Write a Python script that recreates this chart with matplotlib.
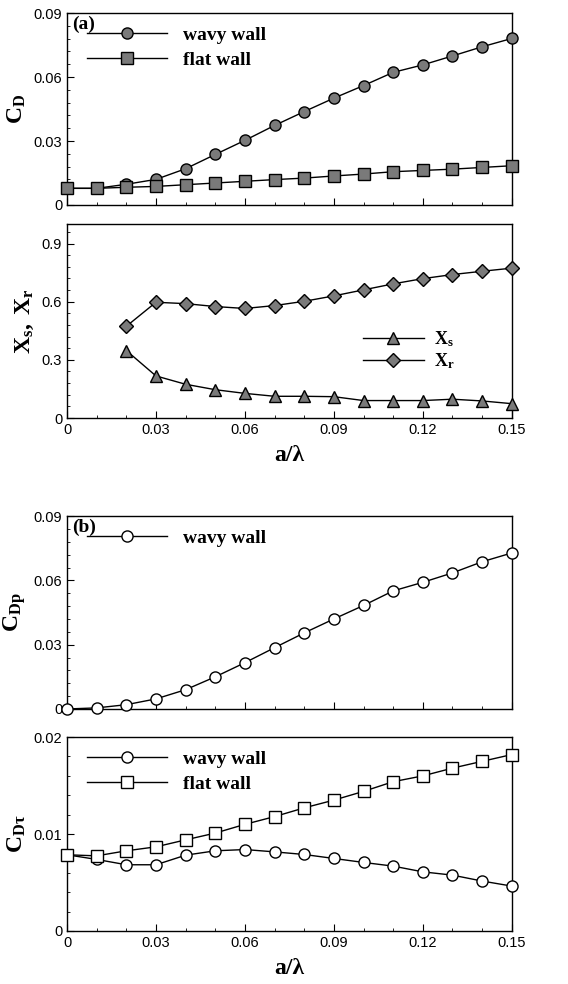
import matplotlib
matplotlib.use('Agg')
import matplotlib.pyplot as plt
from matplotlib.ticker import MultipleLocator, FixedFormatter, FixedLocator

plt.rcParams.update({
    'font.family': 'Liberation Sans',
    'font.size': 10.5,
    'mathtext.fontset': 'custom',
    'mathtext.rm': 'Liberation Serif',
    'mathtext.bf': 'Liberation Serif:bold',
    'mathtext.it': 'Liberation Serif:italic',
    'axes.linewidth': 1.0,
    'xtick.direction': 'in',
    'ytick.direction': 'in',
    'xtick.major.size': 5,
    'ytick.major.size': 5,
    'xtick.minor.size': 2.5,
    'ytick.minor.size': 2.5,
})

a_lam = [0, 0.01, 0.02, 0.03, 0.04, 0.05, 0.06, 0.07, 0.08, 0.09, 0.10, 0.11, 0.12, 0.13, 0.14, 0.15]

# (a) total drag
cd_wavy = [0.0078, 0.0078, 0.0097, 0.0120, 0.0170, 0.0237, 0.0303, 0.0373, 0.0438, 0.0501,
           0.0560, 0.0622, 0.0657, 0.0699, 0.0742, 0.0781]
cd_flat = [0.0078, 0.0078, 0.0083, 0.0087, 0.0095, 0.0103, 0.0111, 0.0119, 0.0126, 0.0136,
           0.0145, 0.0156, 0.0162, 0.0168, 0.0176, 0.0184]

# separation / reattachment points (start at a/lambda = 0.02)
a_sep = a_lam[2:]
xs = [0.348, 0.217, 0.174, 0.146, 0.127, 0.112, 0.112, 0.110, 0.090, 0.090, 0.090, 0.097, 0.088, 0.074]
xr = [0.473, 0.597, 0.590, 0.575, 0.565, 0.580, 0.602, 0.630, 0.661, 0.692, 0.719, 0.740, 0.757, 0.773]

# (b) pressure and friction drag
cdp_wavy = [0.0, 0.0005, 0.0020, 0.0047, 0.0090, 0.0150, 0.0216, 0.0286, 0.0355, 0.0420,
            0.0483, 0.0551, 0.0591, 0.0635, 0.0687, 0.0728]
cdt_wavy = [0.00786, 0.00738, 0.00683, 0.00683, 0.00782, 0.00827, 0.00840, 0.00816, 0.00789, 0.00748,
            0.00707, 0.00669, 0.00610, 0.00576, 0.00515, 0.00463]
cdt_flat = [0.00786, 0.00775, 0.00827, 0.00868, 0.00940, 0.01010, 0.01100, 0.01180, 0.01270, 0.01350,
            0.01440, 0.01540, 0.01600, 0.01680, 0.01750, 0.01820]

serif_bold = dict(family='Liberation Serif', fontweight='bold')
grey = '#7a7a7a'

fig = plt.figure(figsize=(5.68, 9.84), dpi=100)
L, W = 0.118, 0.783
ax1 = fig.add_axes([L, 0.7917, W, 0.195])
ax2 = fig.add_axes([L, 0.5752, W, 0.197])
ax3 = fig.add_axes([L, 0.2795, W, 0.196])
ax4 = fig.add_axes([L, 0.0539, W, 0.197])

mk = dict(color='black', lw=1.0, markersize=8, markeredgecolor='black',
          markeredgewidth=1.0, clip_on=False, zorder=3)

ax1.plot(a_lam, cd_wavy, marker='o', markerfacecolor=grey, label='wavy wall', **mk)
ax1.plot(a_lam, cd_flat, marker='s', markerfacecolor=grey, label='flat wall', **mk)

ax2.plot(a_sep, xs, marker='^', markerfacecolor=grey, label=r'$\mathbf{X_s}$', **mk)
ax2.plot(a_sep, xr, marker='D', markerfacecolor=grey, label=r'$\mathbf{X_r}$',
         **{**mk, 'markersize': 7.5})

ax3.plot(a_lam, cdp_wavy, marker='o', markerfacecolor='white', label='wavy wall', **mk)

ax4.plot(a_lam, cdt_wavy, marker='o', markerfacecolor='white', label='wavy wall', **mk)
ax4.plot(a_lam, cdt_flat, marker='s', markerfacecolor='white', label='flat wall', **mk)

ylims = [(0, 0.09), (0, 1.0), (0, 0.09), (0, 0.02)]
ymaj = [0.03, 0.3, 0.03, 0.01]
ymin = [0.006, 0.06, 0.006, 0.002]
ylabels = [r'$\mathbf{C_D}$', r'$\mathbf{X_s,\ X_r}$', r'$\mathbf{C_{Dp}}$', r'$\mathbf{C_{D\tau}}$']
yticklabels = [['0', '0.03', '0.06', '0.09'], ['0', '0.3', '0.6', '0.9'],
               ['0', '0.03', '0.06', '0.09'], ['0', '0.01', '0.02']]

for ax, yl, mj, mn, lab, tl in zip([ax1, ax2, ax3, ax4], ylims, ymaj, ymin, ylabels, yticklabels):
    ax.set_xlim(0, 0.15)
    ax.set_ylim(*yl)
    ax.xaxis.set_major_locator(MultipleLocator(0.03))
    ax.xaxis.set_minor_locator(MultipleLocator(0.01))
    ticks = [i * mj for i in range(len(tl))]
    ax.yaxis.set_major_locator(FixedLocator(ticks))
    ax.yaxis.set_major_formatter(FixedFormatter(tl))
    ax.yaxis.set_minor_locator(MultipleLocator(mn))
    ax.tick_params(which='both', top=False, right=False)
    ax.tick_params(axis='both', labelsize=10.5)
    ax.set_ylabel(lab, fontsize=17, labelpad=4)

for ax in [ax1, ax3]:
    ax.tick_params(axis='x', labelbottom=False)
for ax in [ax2, ax4]:
    ax.set_xticks([0, 0.03, 0.06, 0.09, 0.12, 0.15])
    ax.set_xticklabels(['0', '0.03', '0.06', '0.09', '0.12', '0.15'])
    ax.set_xlabel('a/λ', fontsize=17, labelpad=6, **serif_bold)

ax1.text(0.012, 0.985, '(a)', transform=ax1.transAxes, ha='left', va='top', fontsize=14, **serif_bold)
ax3.text(0.012, 0.985, '(b)', transform=ax3.transAxes, ha='left', va='top', fontsize=14, **serif_bold)

leg_kw = dict(frameon=False, numpoints=1, borderpad=0, borderaxespad=0,
              handlelength=4.1, handletextpad=0.85, labelspacing=0.35,
              prop={'family': 'Liberation Serif', 'weight': 'bold', 'size': 14})
ax1.legend(loc='upper left', bbox_to_anchor=(0.045, 0.93), **leg_kw)
ax3.legend(loc='upper left', bbox_to_anchor=(0.045, 0.93), **leg_kw)
ax4.legend(loc='upper left', bbox_to_anchor=(0.045, 0.93), **leg_kw)
ax2.legend(loc='upper left', bbox_to_anchor=(0.665, 0.46), frameon=False, numpoints=1,
           borderpad=0, borderaxespad=0, handlelength=3.4, handletextpad=0.55,
           labelspacing=0.15, prop={'size': 13})

fig.savefig('out.png', dpi=100)
